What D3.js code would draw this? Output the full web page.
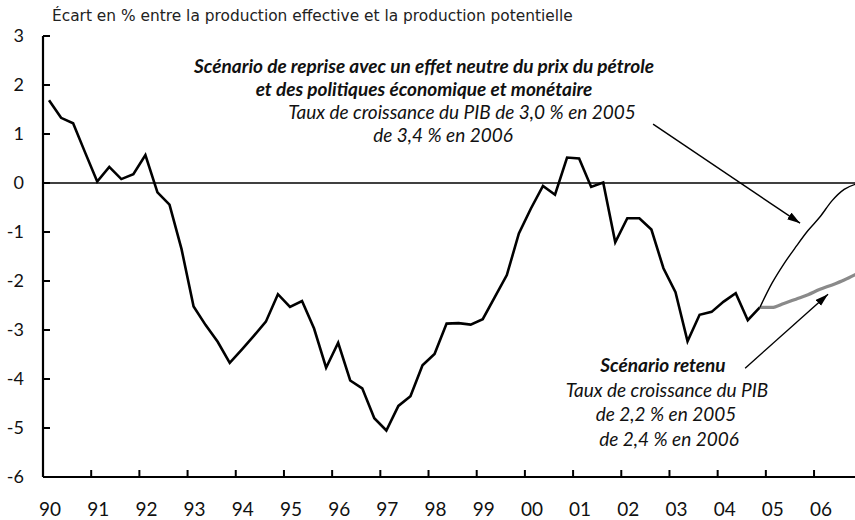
<!DOCTYPE html>
<html>
<head>
<meta charset="utf-8">
<script src="https://cdn.jsdelivr.net/npm/d3@7"></script>
<style>
  html, body { margin: 0; padding: 0; background: #fff; }
  svg { display: block; }
</style>
</head>
<body>
<svg id="chart" width="855" height="520"></svg>
<script>
// ---- Data ----
const startYear = 1990; // first quarter = 1990 Q1
const history = [
  1.69, 1.33, 1.22, 0.62,
  0.03, 0.33, 0.08, 0.18,
  0.57, -0.19, -0.44, -1.35,
  -2.52, -2.90, -3.24, -3.67,
  -3.40, -3.12, -2.83, -2.27,
  -2.53, -2.41, -2.97, -3.77,
  -3.26, -4.03, -4.19, -4.80,
  -5.05, -4.55, -4.35, -3.72,
  -3.49, -2.87, -2.86, -2.89,
  -2.78, -2.33, -1.88, -1.03,
  -0.52, -0.06, -0.24, 0.52,
  0.50, -0.08, 0.01, -1.21,
  -0.72, -0.72, -0.95, -1.74,
  -2.23, -3.23, -2.69, -2.63,
  -2.42, -2.25, -2.80, -2.54
];
// projections start at the last observed quarter (2004 Q4)
const scenarioNeutre = [-2.54, -2.05, -1.65, -1.30, -0.97, -0.69, -0.36, -0.13, -0.02];
const scenarioRetenu = [-2.54, -2.54, -2.46, -2.37, -2.28, -2.17, -2.08, -1.98, -1.86];
const yearLabels = ["90","91","92","93","94","95","96","97","98","99","00","01","02","03","04","05","06"];
const yTicks = [-6, -5, -4, -3, -2, -1, 0, 1, 2, 3];
const titleText = "Écart en % entre la production effective et la production potentielle";
const noteNeutre = ["Scénario de reprise avec un effet neutre du prix du pétrole",
                    "et des politiques économique et monétaire"];
const noteNeutreSub = ["Taux de croissance du PIB de 3,0 % en 2005", "de 3,4 % en 2006"];
const noteRetenu = "Scénario retenu";
const noteRetenuSub = ["Taux de croissance du PIB", "de 2,2 % en 2005", "de 2,4 % en 2006"];

// ---- Layout ----
const svg = d3.select("#chart");
const x = d3.scaleLinear().domain([1990, 2007]).range([43, 43 + 17 * 48.19]);
const y = d3.scaleLinear().domain([-6, 3]).range([477, 36]);
const qTime = i => startYear + (i + 0.5) / 4;
const fontSans = "Lato, 'Open Sans', sans-serif";

// title
svg.append("text").attr("x", 52).attr("y", 21)
  .attr("font-family", "'DejaVu Sans', sans-serif").attr("font-size", 15.4)
  .attr("fill", "#222").text(titleText);

// zero line
svg.append("line")
  .attr("x1", x(1990)).attr("x2", 855)
  .attr("y1", y(0)).attr("y2", y(0))
  .attr("stroke", "#000").attr("stroke-width", 1.4);

// lines
const lineH = d3.line().x((d, i) => x(qTime(i))).y(d => y(d));
svg.append("path").datum(history).attr("d", lineH)
  .attr("fill", "none").attr("stroke", "#000").attr("stroke-width", 2.6)
  .attr("stroke-linejoin", "miter");

const lineP = d3.line().x((d, i) => x(qTime(i + history.length - 1))).y(d => y(d))
  .curve(d3.curveMonotoneX);
svg.append("path").datum(scenarioRetenu).attr("d", lineP)
  .attr("fill", "none").attr("stroke", "#8a8a8a").attr("stroke-width", 3.2);
svg.append("path").datum(scenarioNeutre).attr("d", lineP)
  .attr("fill", "none").attr("stroke", "#000").attr("stroke-width", 1.4);

// axes
const yAxis = svg.append("g");
yAxis.append("line").attr("x1", x(1990)).attr("x2", x(1990))
  .attr("y1", y(3)).attr("y2", y(-6)).attr("stroke", "#000").attr("stroke-width", 2.2);
yAxis.selectAll("line.tk").data(yTicks).join("line").attr("class", "tk")
  .attr("x1", x(1990)).attr("x2", x(1990) + 7)
  .attr("y1", d => y(d)).attr("y2", d => y(d))
  .attr("stroke", "#000").attr("stroke-width", 2);
yAxis.selectAll("text").data(yTicks).join("text")
  .attr("x", 24).attr("y", d => y(d)).attr("dy", "0.36em")
  .attr("text-anchor", "end").attr("font-family", fontSans).attr("font-size", 18)
  .attr("fill", "#111").text(d => d);

const xAxis = svg.append("g");
xAxis.append("line").attr("x1", x(1990)).attr("x2", 855)
  .attr("y1", y(-6)).attr("y2", y(-6)).attr("stroke", "#000").attr("stroke-width", 2.2);
xAxis.selectAll("line.tk").data(d3.range(1991, 2007)).join("line").attr("class", "tk")
  .attr("x1", d => x(d)).attr("x2", d => x(d))
  .attr("y1", y(-6)).attr("y2", y(-6) - 7)
  .attr("stroke", "#000").attr("stroke-width", 2);
xAxis.selectAll("text").data(yearLabels).join("text")
  .attr("x", (d, i) => x(1990 + i + 0.125) + 1).attr("y", 516)
  .attr("text-anchor", "middle").attr("font-family", fontSans).attr("font-size", 19)
  .attr("fill", "#111").text(d => d);

// arrows
const defs = svg.append("defs");
defs.append("marker").attr("id", "arr").attr("markerUnits", "userSpaceOnUse")
  .attr("markerWidth", 14).attr("markerHeight", 10).attr("refX", 13).attr("refY", 4)
  .attr("orient", "auto")
  .append("path").attr("d", "M0,0 L13,4 L0,8 Z").attr("fill", "#000");

const arrows = [
  { from: [2002.66, 1.20], to: [2005.71, -0.82] },
  { from: [2004.57, -3.78], to: [2006.29, -2.27] }
];
svg.selectAll("line.arrow").data(arrows).join("line").attr("class", "arrow")
  .attr("x1", d => x(d.from[0])).attr("y1", d => y(d.from[1]))
  .attr("x2", d => x(d.to[0])).attr("y2", d => y(d.to[1]))
  .attr("stroke", "#000").attr("stroke-width", 1.4).attr("marker-end", "url(#arr)");

// annotations
const ann = svg.append("g").attr("font-family", fontSans).attr("fill", "#111")
  .attr("text-anchor", "middle");
ann.append("text").attr("x", 424).attr("y", 73).attr("font-size", 19)
  .attr("font-weight", "bold").attr("font-style", "italic").text(noteNeutre[0]);
ann.append("text").attr("x", 424).attr("y", 96).attr("font-size", 19)
  .attr("font-weight", "bold").attr("font-style", "italic").text(noteNeutre[1]);
ann.append("text").attr("x", 462).attr("y", 119).attr("font-size", 19)
  .attr("font-style", "italic").text(noteNeutreSub[0]);
ann.append("text").attr("x", 443).attr("y", 142).attr("font-size", 19)
  .attr("font-style", "italic").text(noteNeutreSub[1]);

ann.append("text").attr("x", 663).attr("y", 372).attr("font-size", 19)
  .attr("font-weight", "bold").attr("font-style", "italic").text(noteRetenu);
noteRetenuSub.forEach((t, i) => {
  ann.append("text").attr("x", [667, 666, 669][i]).attr("y", 397 + i * 24.3)
    .attr("font-size", 19).attr("font-style", "italic").text(t);
});
</script>
</body>
</html>
